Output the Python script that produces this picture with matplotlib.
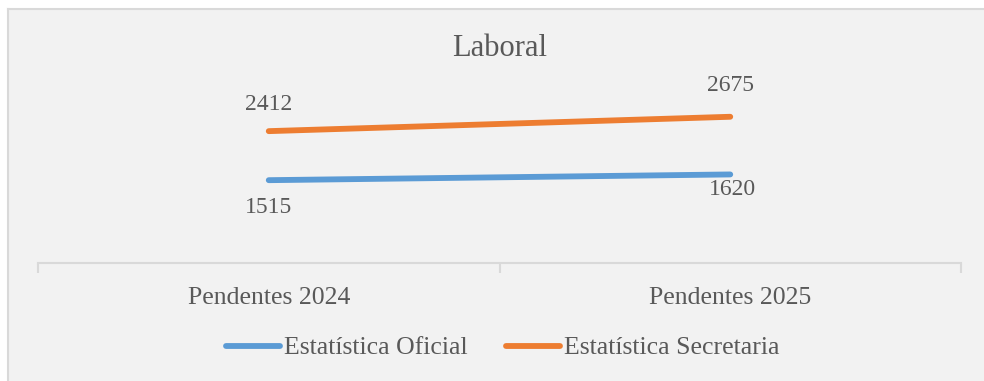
import matplotlib.pyplot as plt
from matplotlib.patches import Rectangle
from matplotlib.lines import Line2D

# Data
categories = ["Pendentes 2024", "Pendentes 2025"]
oficial = [1515, 1620]
secretaria = [2412, 2675]
series_names = ["Estatística Oficial", "Estatística Secretaria"]

# Style
blue = "#5B9BD5"
orange = "#ED7D31"
text_color = "#595959"
grid_color = "#D9D9D9"
bg = "#F2F2F2"
font = "Liberation Serif"

W, H = 984, 381
fig = plt.figure(figsize=(W / 100, H / 100), dpi=100)
fig.patch.set_facecolor("white")

# chart area background with left/top border
fig.patches.append(Rectangle((8 / W, 0), 1, (H - 9) / H, transform=fig.transFigure,
                             facecolor=bg, edgecolor="none", zorder=-2))
fig.lines.append(Line2D([8 / W, 8 / W], [0, (H - 9) / H], transform=fig.transFigure,
                        color=grid_color, lw=1.5, zorder=-1))
fig.lines.append(Line2D([8 / W, 1], [(H - 9) / H, (H - 9) / H], transform=fig.transFigure,
                        color=grid_color, lw=1.5, zorder=-1))

ax = fig.add_axes([38 / W, (H - 263) / H, (961 - 38) / W, (263 - 99) / H])
ax.set_facecolor("none")
ax.set_zorder(1)

x = list(range(len(categories)))
l1, = ax.plot(x, oficial, color=blue, lw=4.2, solid_capstyle="round")
l2, = ax.plot(x, secretaria, color=orange, lw=4.2, solid_capstyle="round")

ax.set_xlim(-0.5, len(categories) - 0.5)
ax.set_ylim(0, 3000)

# data labels
label_kw = dict(textcoords="offset pixels", ha="center", va="center",
                fontsize=17, color=text_color, family=font)
sec_offsets = [(0, 27), (0, 31)]
ofi_offsets = [(0, -27), (2, -15)]
for xi, v, off in zip(x, secretaria, sec_offsets):
    ax.annotate(str(v), (xi, v), xytext=off, **label_kw)
for xi, v, off in zip(x, oficial, ofi_offsets):
    ax.annotate(str(v), (xi, v), xytext=off, **label_kw)

# axes styling
for s in ["top", "right", "left"]:
    ax.spines[s].set_visible(False)
ax.spines["bottom"].set_color(grid_color)
ax.spines["bottom"].set_linewidth(1.5)
ax.set_yticks([])
ax.set_xticks(x)
ax.set_xticklabels(categories, fontsize=18.5, color=text_color, family=font)
ax.tick_params(axis="x", which="major", length=0, pad=17)
ax.set_xticks([-0.5, 0.5, 1.5], minor=True)
ax.tick_params(axis="x", which="minor", length=7, width=1.5, color=grid_color)

fig.text(500 / W, 1 - 49 / H, "Laboral", ha="center", va="center",
         fontsize=22, color=text_color, family=font)

leg = fig.legend([l1, l2], series_names, loc="center", bbox_to_anchor=(503 / W, 1 - 348 / H),
                 ncol=2, frameon=False, handlelength=2.1, handletextpad=0.15,
                 columnspacing=1.5, prop={"family": font, "size": 18.5})
for t in leg.get_texts():
    t.set_color(text_color)

fig.savefig("out.png", dpi=100)
